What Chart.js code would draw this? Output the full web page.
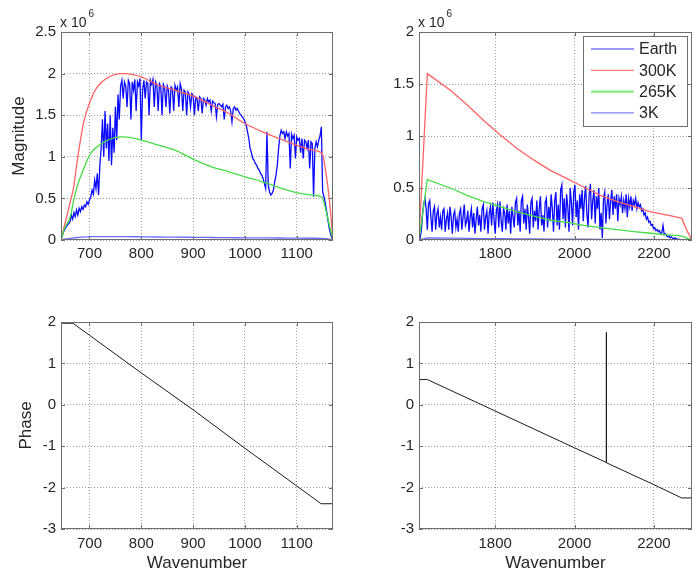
<!DOCTYPE html>
<html>
<head>
<meta charset="utf-8">
<script src="https://cdn.jsdelivr.net/npm/chart.js@4.4.1/dist/chart.umd.min.js"></script>
<style>
  body { margin: 0; background: #fff; }
  #fig { position: relative; width: 697px; height: 578px; }
  #fig canvas { position: absolute; }
</style>
</head>
<body>
<div id="fig">
  <canvas id="magLeft" width="348" height="290" style="left:0;top:0"></canvas>
  <canvas id="magRight" width="347" height="290" style="left:350px;top:0"></canvas>
  <canvas id="phaseLeft" width="348" height="288" style="left:0;top:290px"></canvas>
  <canvas id="phaseRight" width="347" height="288" style="left:350px;top:290px"></canvas>
</div>
<script>
// series names (legend order)
const seriesLabels = ['Earth', '300K', '265K', '3K'];

// tick labels
const xTicksLeft = [700, 800, 900, 1000, 1100];
const xTicksRight = [1800, 2000, 2200];
const magTicksLeft = [0, 0.5, 1, 1.5, 2, 2.5];
const magTicksRight = [0, 0.5, 1, 1.5, 2];
const phaseTicks = [-3, -2, -1, 0, 1, 2];

// --- band 1 (645-1170), magnitudes in units of 10^6 ---
// Earth spectrum sampled every 2.5 cm-1 starting at 645
const earthLeftStart = 645;
const earthLeftStep = 2.5;
const earthLeft = [
  0, 0.05, 0.10, 0.13, 0.16, 0.18, 0.20, 0.22, 0.30, 0.25,
  0.33, 0.28, 0.36, 0.30, 0.38, 0.34, 0.40, 0.37, 0.42, 0.40,
  0.46, 0.43, 0.48, 0.52, 0.60, 0.55, 0.72, 0.62, 0.80, 0.54,
  0.90, 1.10, 1.45, 1.00, 1.55, 1.10, 1.40, 0.95, 1.50, 0.90,
  1.35, 1.05, 1.60, 1.20, 1.75, 1.45, 1.85, 1.92, 1.70, 1.90,
  1.85, 1.60, 1.92, 1.88, 1.45, 1.90, 1.80, 1.93, 1.55, 1.90,
  1.85, 1.94, 1.20, 1.80, 1.92, 1.70, 1.90, 1.88, 1.50, 1.92,
  1.87, 1.93, 1.60, 1.90, 1.86, 1.55, 1.88, 1.85, 1.50, 1.87,
  1.83, 1.60, 1.85, 1.80, 1.52, 1.84, 1.82, 1.55, 1.86, 1.80,
  1.84, 1.60, 1.88, 1.82, 1.55, 1.80, 1.78, 1.50, 1.78, 1.75,
  1.60, 1.76, 1.74, 1.50, 1.72, 1.70, 1.55, 1.72, 1.70, 1.52,
  1.70, 1.68, 1.62, 1.70, 1.66, 1.68, 1.55, 1.67, 1.65, 1.64,
  1.48, 1.63, 1.64, 1.62, 1.60, 1.63, 1.45, 1.60, 1.62, 1.58,
  1.60, 1.55, 1.42, 1.58, 1.60, 1.56, 1.58, 1.55, 1.52, 1.50,
  1.48, 1.46, 1.42, 1.38, 1.30, 1.22, 1.10, 1.05, 0.98, 0.96,
  0.92, 0.90, 0.86, 0.84, 0.80, 0.78, 0.74, 0.68, 0.62, 1.30,
  0.66, 0.58, 0.54, 0.56, 0.60, 0.70, 0.78, 0.90, 1.10, 1.25,
  1.32, 1.28, 1.30, 1.22, 1.30, 1.25, 1.28, 0.86, 1.27, 1.22,
  1.26, 0.98, 1.24, 1.20, 1.22, 1.05, 1.22, 0.98, 1.20, 1.18,
  1.10, 1.20, 0.86, 1.18, 1.16, 0.52, 1.10, 1.18, 1.12, 1.20,
  1.25, 1.36, 0.58, 0.52, 0.45, 0.35, 0.25, 0.15, 0.08, 0.03,
  0
];
const bbLeftWn = [645, 652, 663, 669, 676, 689, 702, 715, 735, 761, 767, 800, 833,
  865, 904, 936, 969, 1000, 1034, 1066, 1099, 1131, 1149, 1157, 1164, 1170];
const bb300Left = [0, 0.18, 0.46, 0.62, 0.94, 1.42, 1.68, 1.84, 1.95, 2.0, 2.0, 1.96, 1.86,
  1.80, 1.72, 1.62, 1.52, 1.40, 1.30, 1.22, 1.14, 1.08, 1.04, 0.78, 0.42, 0];
const bb265Left = [0, 0.14, 0.28, 0.46, 0.64, 0.86, 1.04, 1.12, 1.20, 1.24, 1.24, 1.20, 1.14,
  1.08, 0.96, 0.88, 0.82, 0.76, 0.70, 0.63, 0.57, 0.54, 0.51, 0.34, 0.15, 0];
const bb3Left = [0, 0.01, 0.02, 0.025, 0.03, 0.035, 0.04, 0.04, 0.04, 0.04, 0.04, 0.038, 0.036,
  0.034, 0.032, 0.03, 0.028, 0.026, 0.025, 0.024, 0.022, 0.021, 0.02, 0.015, 0.008, 0];

// --- band 2 (1608-2296) ---
const earthRightStart = 1608;
const earthRightStep = 3;
const earthRight = [
  0, 0.02, 0.10, 0.25, 0.35, 0.40, 0.30, 0.10, 0.35, 0.38,
  0.22, 0.08, 0.28, 0.32, 0.10, 0.25, 0.30, 0.12, 0.22, 0.10,
  0.28, 0.30, 0.08, 0.20, 0.26, 0.10, 0.32, 0.22, 0.06, 0.24,
  0.28, 0.12, 0.20, 0.08, 0.26, 0.30, 0.10, 0.22, 0.34, 0.14,
  0.18, 0.28, 0.08, 0.22, 0.30, 0.12, 0.26, 0.06, 0.20, 0.32,
  0.14, 0.24, 0.08, 0.30, 0.34, 0.10, 0.22, 0.28, 0.06, 0.26,
  0.32, 0.14, 0.36, 0.20, 0.06, 0.28, 0.34, 0.12, 0.37, 0.18,
  0.08, 0.30, 0.26, 0.10, 0.34, 0.16, 0.28, 0.06, 0.32, 0.22,
  0.12, 0.36, 0.40, 0.14, 0.28, 0.08, 0.38, 0.42, 0.16, 0.30,
  0.10, 0.34, 0.22, 0.06, 0.36, 0.40, 0.12, 0.28, 0.18, 0.38,
  0.10, 0.30, 0.42, 0.14, 0.24, 0.08, 0.36, 0.40, 0.12, 0.32,
  0.18, 0.44, 0.30, 0.08, 0.38, 0.46, 0.14, 0.34, 0.10, 0.48,
  0.53, 0.20, 0.40, 0.12, 0.44, 0.32, 0.08, 0.50, 0.36, 0.14,
  0.46, 0.53, 0.22, 0.38, 0.10, 0.44, 0.30, 0.48, 0.18, 0.40,
  0.52, 0.26, 0.12, 0.45, 0.54, 0.20, 0.38, 0.48, 0.16, 0.42,
  0.30, 0.50, 0.10, 0.26, 0.02, 0.40, 0.46, 0.16, 0.34, 0.44,
  0.20, 0.38, 0.48, 0.24, 0.42, 0.30, 0.44, 0.18, 0.40, 0.34,
  0.42, 0.26, 0.38, 0.30, 0.44, 0.22, 0.40, 0.32, 0.42, 0.28,
  0.38, 0.34, 0.40, 0.30, 0.36, 0.32, 0.34, 0.28, 0.30, 0.24,
  0.26, 0.20, 0.22, 0.17, 0.18, 0.14, 0.15, 0.11, 0.12, 0.09,
  0.10, 0.08, 0.09, 0.06, 0.07, 0.14, 0.05, 0.06, 0.04, 0.03,
  0.04, 0.02, 0.03, 0.02, 0.01, 0.02, 0.01, 0.01, 0.005, 0.005,
  0, 0, 0, 0, 0, 0, 0, 0, 0
];
const bbRightWn = [1608, 1629, 1687, 1729, 1771, 1813, 1855, 1897, 1939, 1981,
  2023, 2065, 2108, 2150, 2192, 2234, 2270, 2282, 2296];
const bb300Right = [0, 1.60, 1.44, 1.30, 1.15, 1.01, 0.88, 0.77, 0.67, 0.59,
  0.51, 0.43, 0.37, 0.32, 0.27, 0.24, 0.21, 0.10, 0];
const bb265Right = [0, 0.58, 0.50, 0.43, 0.37, 0.32, 0.27, 0.23, 0.19, 0.17,
  0.14, 0.12, 0.10, 0.08, 0.065, 0.05, 0.04, 0.02, 0];
const bb3Right = [0, 0.02, 0.018, 0.016, 0.014, 0.012, 0.011, 0.01, 0.009, 0.008,
  0.007, 0.006, 0.006, 0.005, 0.005, 0.004, 0.004, 0.002, 0];

// --- phase ---
const phaseLeftWn = [645, 668, 700, 800, 900, 1000, 1100, 1147, 1170];
const phaseLeftVal = [1.97, 1.97, 1.68, 0.77, -0.12, -1.05, -1.96, -2.39, -2.39];
const phaseRightWn = [1608, 1629, 1800, 2000, 2079.5, 2080, 2080.5, 2200, 2270, 2296];
const phaseRightVal = [0.61, 0.61, -0.15, -1.04, -1.39, 1.75, -1.40, -1.93, -2.25, -2.25];

// styles
const lineColors = ['#0a0aff', '#ff6464', '#46dc46', '#6b6bff'];
const legendColors = ['#9a9aff', '#ff8080', '#88ee88', '#8484ff'];
const legendWidths = [2.2, 1.2, 2.2, 1.2];
const boxColor = '#6e6e6e';
const textColor = '#262626';

Chart.defaults.font.family = "'Liberation Sans', Arial, sans-serif";
Chart.defaults.font.size = 15;
Chart.defaults.color = textColor;

const pairs = (xs, ys) => xs.map((x, i) => ({ x, y: ys[i] }));
const sampled = (start, step, ys) => ys.map((y, i) => ({ x: start + i * step, y }));

function magDatasets(earth, wn, bb300, bb265, bb3, smooth) {
  const sets = [earth, pairs(wn, bb300), pairs(wn, bb265), pairs(wn, bb3)];
  return sets.map((d, i) => ({
    label: seriesLabels[i],
    data: d,
    borderColor: lineColors[i],
    borderWidth: 1.3,
    pointRadius: 0,
    tension: 0,
    // blackbody curves of the first band are rounded, the spectrum is not
    cubicInterpolationMode: (smooth && i > 0) ? 'monotone' : 'default',
    order: 3 - i   // Earth drawn underneath, like the original plot order
  }));
}

// MATLAB style axes box with inward tick marks
const axesBox = {
  id: 'axesBox',
  afterDraw(chart) {
    const { ctx, chartArea: a, scales } = chart;
    ctx.save();
    ctx.setLineDash([]);
    ctx.strokeStyle = boxColor;
    ctx.lineWidth = 1;
    ctx.strokeRect(a.left + 0.5, a.top + 0.5, a.right - a.left - 1, a.bottom - a.top - 1);
    ctx.beginPath();
    scales.x.ticks.forEach(t => {
      const px = Math.round(scales.x.getPixelForValue(t.value)) + 0.5;
      ctx.moveTo(px, a.bottom); ctx.lineTo(px, a.bottom - 4);
      ctx.moveTo(px, a.top); ctx.lineTo(px, a.top + 4);
    });
    scales.y.ticks.forEach(t => {
      const py = Math.round(scales.y.getPixelForValue(t.value)) + 0.5;
      ctx.moveTo(a.left, py); ctx.lineTo(a.left + 4, py);
      ctx.moveTo(a.right, py); ctx.lineTo(a.right - 4, py);
    });
    ctx.stroke();
    ctx.restore();
  }
};

// "x 10^6" multiplier above the y axis
const exponentLabel = {
  id: 'exponentLabel',
  afterDraw(chart) {
    const { ctx, chartArea: a } = chart;
    ctx.save();
    ctx.fillStyle = textColor;
    ctx.textBaseline = 'alphabetic';
    ctx.font = "14px 'Liberation Sans', Arial, sans-serif";
    const base = 'x 10';
    ctx.fillText(base, a.left - 1, a.top - 5);
    const w = ctx.measureText(base).width;
    ctx.font = "10px 'Liberation Sans', Arial, sans-serif";
    ctx.fillText('6', a.left + w + 1, a.top - 15);
    ctx.restore();
  }
};

// boxed legend in the upper right corner of the axes
const boxLegend = {
  id: 'boxLegend',
  afterDraw(chart) {
    const { ctx, chartArea: a } = chart;
    const w = 104, h = 90;
    const x0 = a.right - 5 - w, y0 = a.top + 4;
    ctx.save();
    ctx.fillStyle = '#fff';
    ctx.fillRect(x0, y0, w, h);
    ctx.strokeStyle = boxColor;
    ctx.lineWidth = 1;
    ctx.strokeRect(x0 + 0.5, y0 + 0.5, w, h);
    ctx.font = "16px 'Liberation Sans', Arial, sans-serif";
    ctx.textBaseline = 'middle';
    chart.data.datasets.forEach((ds, i) => {
      const y = y0 + 13 + i * 21.3;
      ctx.strokeStyle = legendColors[i];
      ctx.lineWidth = legendWidths[i];
      ctx.beginPath();
      ctx.moveTo(x0 + 8, y); ctx.lineTo(x0 + 51, y);
      ctx.stroke();
      ctx.fillStyle = textColor;
      ctx.fillText(ds.label, x0 + 56, y + 1);
    });
    ctx.restore();
  }
};

function makeOptions(cfg) {
  const gridStyle = { color: '#a0a0a0', lineWidth: 1, drawTicks: false };
  const x = {
    type: 'linear',
    min: cfg.xMin,
    max: cfg.xMax,
    afterBuildTicks: s => { s.ticks = cfg.xTicks.map(v => ({ value: v })); },
    afterFit: s => { s.height = cfg.xHeight; },
    grid: gridStyle,
    border: { display: false, dash: [1, 2] },
    ticks: { padding: cfg.xPad, autoSkip: false, maxRotation: 0, callback: v => String(v) },
    title: {
      display: !!cfg.xTitle,
      text: cfg.xTitle || '',
      font: { size: 17 },
      color: textColor,
      padding: { top: 0, bottom: 4.8 }
    }
  };
  const y = {
    type: 'linear',
    min: cfg.yMin,
    max: cfg.yMax,
    afterBuildTicks: s => { s.ticks = cfg.yTicks.map(v => ({ value: v })); },
    afterFit: s => { s.width = cfg.yWidth; },
    grid: gridStyle,
    border: { display: false, dash: [1, 2] },
    ticks: { padding: 5, autoSkip: false, callback: v => String(v) },
    title: {
      display: !!cfg.yTitle,
      text: cfg.yTitle || '',
      font: { size: 17 },
      color: textColor,
      padding: { top: cfg.yTitlePad || 0, bottom: 0 }
    }
  };
  return {
    responsive: false,
    animation: false,
    layout: { padding: { top: 32, right: cfg.padRight, bottom: 0, left: 0 } },
    plugins: { legend: { display: false }, tooltip: { enabled: false } },
    scales: { x, y }
  };
}

new Chart(document.getElementById('magLeft'), {
  type: 'line',
  data: { datasets: magDatasets(sampled(earthLeftStart, earthLeftStep, earthLeft),
    bbLeftWn, bb300Left, bb265Left, bb3Left, true) },
  options: makeOptions({ xMin: 645, xMax: 1170, xTicks: xTicksLeft, yMin: 0, yMax: 2.5,
    yTicks: magTicksLeft, yTitle: 'Magnitude', yTitlePad: 8.8, yWidth: 61, xHeight: 50,
    xPad: 5, padRight: 15 }),
  plugins: [axesBox, exponentLabel]
});

new Chart(document.getElementById('magRight'), {
  type: 'line',
  data: { datasets: magDatasets(sampled(earthRightStart, earthRightStep, earthRight),
    bbRightWn, bb300Right, bb265Right, bb3Right, false) },
  options: makeOptions({ xMin: 1608, xMax: 2296, xTicks: xTicksRight, yMin: 0, yMax: 2,
    yTicks: magTicksRight, yWidth: 69, xHeight: 50, xPad: 5, padRight: 5 }),
  plugins: [axesBox, exponentLabel, boxLegend]
});

function phaseDataset(xs, ys) {
  return [{
    label: 'Phase',
    data: pairs(xs, ys),
    borderColor: '#1a1a1a',
    borderWidth: 1,
    pointRadius: 0,
    tension: 0
  }];
}

new Chart(document.getElementById('phaseLeft'), {
  type: 'line',
  data: { datasets: phaseDataset(phaseLeftWn, phaseLeftVal) },
  options: makeOptions({ xMin: 645, xMax: 1170, xTicks: xTicksLeft, yMin: -3, yMax: 2,
    yTicks: phaseTicks, yTitle: 'Phase', yTitlePad: 15.8, xTitle: 'Wavenumber',
    yWidth: 61, xHeight: 49, xPad: 6, padRight: 15 }),
  plugins: [axesBox]
});

new Chart(document.getElementById('phaseRight'), {
  type: 'line',
  data: { datasets: phaseDataset(phaseRightWn, phaseRightVal) },
  options: makeOptions({ xMin: 1608, xMax: 2296, xTicks: xTicksRight, yMin: -3, yMax: 2,
    yTicks: phaseTicks, xTitle: 'Wavenumber', yWidth: 69, xHeight: 49, xPad: 6, padRight: 5 }),
  plugins: [axesBox]
});
</script>
</body>
</html>
